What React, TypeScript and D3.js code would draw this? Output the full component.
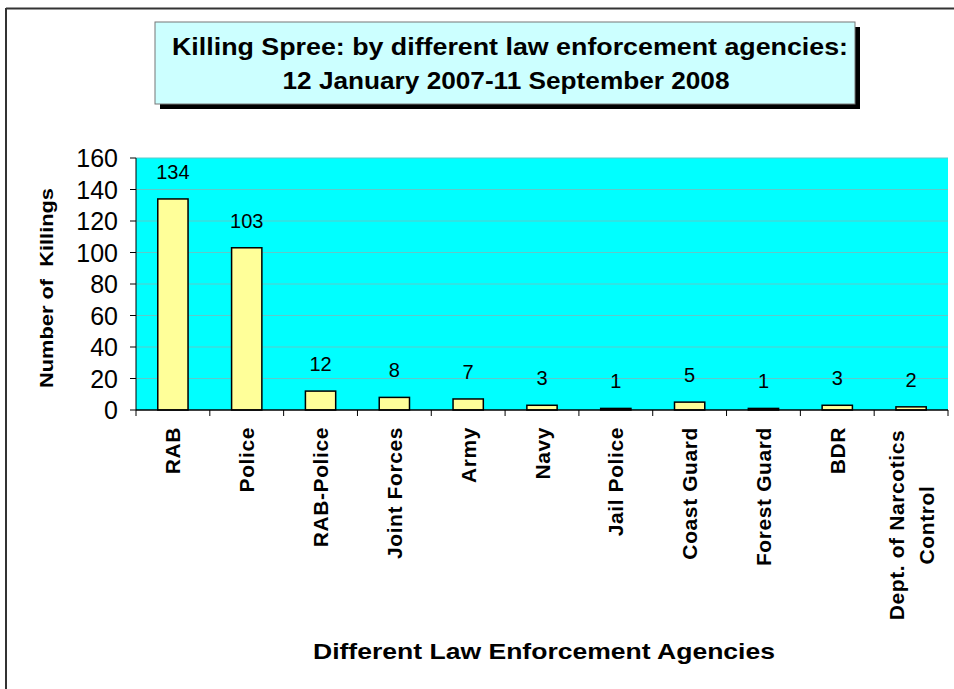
import * as d3 from "d3";
import React from "react";

const agencies: string[][] = [
  ["RAB"],
  ["Police"],
  ["RAB-Police"],
  ["Joint Forces"],
  ["Army"],
  ["Navy"],
  ["Jail Police"],
  ["Coast Guard"],
  ["Forest Guard"],
  ["BDR"],
  ["Dept. of Narcotics", "Control"],
];
const killings: number[] = [134, 103, 12, 8, 7, 3, 1, 5, 1, 3, 2];
const yTicks: number[] = [0, 20, 40, 60, 80, 100, 120, 140, 160];

const W = 954;
const H = 689;
const plot = { left: 136, right: 948, top: 158, bottom: 410 };
const font = "Arial, 'Liberation Sans', sans-serif";

export default function App() {
  const keys = agencies.map((a) => a.join(" "));
  const x = d3.scaleBand<string>().domain(keys).range([plot.left, plot.right]).paddingInner(0.59).paddingOuter(0.295);
  const xStep = d3.scaleBand<string>().domain(keys).range([plot.left, plot.right]);
  const y = d3.scaleLinear().domain([0, 160]).range([plot.bottom, plot.top]);

  return (
    <svg width={W} height={H} style={{ position: "absolute", left: 0, top: 0 }} fontFamily={font}>
      <rect x={0} y={0} width={W} height={H} fill="#fff" />
      {/* outer frame (left and top visible) */}
      <line x1={6} y1={8.5} x2={W} y2={8.5} stroke="#333" strokeWidth={2} />
      <line x1={6} y1={8} x2={6} y2={H} stroke="#333" strokeWidth={2} />

      {/* title box */}
      <rect x={160} y={27} width={700} height={82} fill="#000" />
      <rect x={155} y={22} width={700} height={82} fill="#ccffff" stroke="#777" strokeWidth={1} />
      <text x={510} y={55} textAnchor="middle" fontSize={23} fontWeight="bold" textLength={676} lengthAdjust="spacingAndGlyphs">
        Killing Spree: by different law enforcement agencies:
      </text>
      <text x={506} y={89} textAnchor="middle" fontSize={23} fontWeight="bold" textLength={447} lengthAdjust="spacingAndGlyphs">
        12 January 2007-11 September 2008
      </text>

      {/* plot area */}
      <rect x={plot.left} y={plot.top} width={plot.right - plot.left} height={plot.bottom - plot.top} fill="#00ffff" />
      {yTicks.slice(1).map((t) => (
        <line key={t} x1={plot.left} x2={plot.right} y1={y(t)} y2={y(t)} stroke="#5fc9c9" strokeWidth={1} />
      ))}

      {/* bars */}
      {killings.map((v, i) => (
        <g key={keys[i]}>
          <rect
            x={x(keys[i])!}
            y={y(v)}
            width={x.bandwidth()}
            height={plot.bottom - y(v)}
            fill="#ffff99"
            stroke="#000"
            strokeWidth={1.5}
          />
          <text x={x(keys[i])! + x.bandwidth() / 2} y={y(v) - 20} textAnchor="middle" fontSize={20}>
            {v}
          </text>
        </g>
      ))}

      {/* axes */}
      <line x1={plot.left} x2={plot.left} y1={plot.top} y2={plot.bottom} stroke="#000" strokeWidth={1} />
      <line x1={plot.left} x2={plot.right} y1={plot.bottom} y2={plot.bottom} stroke="#000" strokeWidth={1.5} />
      {yTicks.map((t) => (
        <g key={t}>
          <line x1={plot.left - 6} x2={plot.left} y1={y(t)} y2={y(t)} stroke="#000" />
          <text x={plot.left - 18} y={y(t)} dy="0.36em" textAnchor="end" fontSize={25}>
            {t}
          </text>
        </g>
      ))}
      {keys.map((k) => (
        <line key={k} x1={xStep(k)!} x2={xStep(k)!} y1={plot.bottom} y2={plot.bottom + 6} stroke="#000" />
      ))}
      <line x1={plot.right} x2={plot.right} y1={plot.bottom} y2={plot.bottom + 6} stroke="#000" />

      {/* category labels */}
      {agencies.map((lines, i) => {
        const cx = xStep(keys[i])! + xStep.bandwidth() / 2;
        const lh = 30;
        return (
          <g key={keys[i]} transform={`translate(${cx},${plot.bottom + 17}) rotate(-90)`}>
            {lines.length === 1 ? (
              <text x={0} y={0} dy="0.36em" textAnchor="end" fontSize={21} fontWeight="bold" letterSpacing={0.6}>
                {lines[0]}
              </text>
            ) : (
              lines.map((l, j) => (
                <text
                  key={l}
                  x={-98}
                  y={(j - (lines.length - 1) / 2) * lh}
                  dy="0.36em"
                  textAnchor="middle"
                  fontSize={21}
                  fontWeight="bold"
                  letterSpacing={0.6}
                >
                  {l}
                </text>
              ))
            )}
          </g>
        );
      })}

      {/* axis titles */}
      <text
        transform={`translate(53,${288}) rotate(-90)`}
        textAnchor="middle"
        fontSize={18}
        fontWeight="bold"
        textLength={200}
        lengthAdjust="spacingAndGlyphs"
        style={{ whiteSpace: "pre" }}
      >
        {"Number of  Killings"}
      </text>
      <text x={544} y={659} textAnchor="middle" fontSize={22} fontWeight="bold" textLength={462} lengthAdjust="spacingAndGlyphs">
        Different Law Enforcement Agencies
      </text>
    </svg>
  );
}
